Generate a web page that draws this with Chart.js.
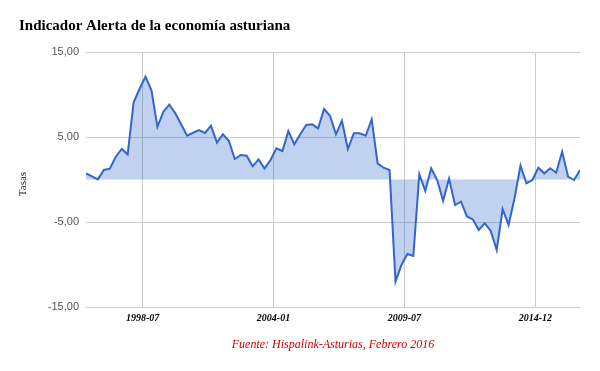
<!DOCTYPE html>
<html>
<head>
<meta charset="utf-8">
<script src="https://cdn.jsdelivr.net/npm/chart.js@4.4.1/dist/chart.umd.min.js"></script>
<style>
  html, body { margin: 0; padding: 0; background: #fff; }
  #wrap { width: 600px; height: 371px; position: relative; }
</style>
</head>
<body>
<div id="wrap"><canvas id="alertaChart"></canvas></div>
<script>
// quarters 1996 - 2016
const quarters = [
  '1996-T1','1996-T2','1996-T3','1996-T4','1997-T1','1997-T2','1997-T3','1997-T4',
  '1998-T1','1998-T2','1998-T3','1998-T4','1999-T1','1999-T2','1999-T3','1999-T4',
  '2000-T1','2000-T2','2000-T3','2000-T4','2001-T1','2001-T2','2001-T3','2001-T4',
  '2002-T1','2002-T2','2002-T3','2002-T4','2003-T1','2003-T2','2003-T3','2003-T4',
  '2004-T1','2004-T2','2004-T3','2004-T4','2005-T1','2005-T2','2005-T3','2005-T4',
  '2006-T1','2006-T2','2006-T3','2006-T4','2007-T1','2007-T2','2007-T3','2007-T4',
  '2008-T1','2008-T2','2008-T3','2008-T4','2009-T1','2009-T2','2009-T3','2009-T4',
  '2010-T1','2010-T2','2010-T3','2010-T4','2011-T1','2011-T2','2011-T3','2011-T4',
  '2012-T1','2012-T2','2012-T3','2012-T4','2013-T1','2013-T2','2013-T3','2013-T4',
  '2014-T1','2014-T2','2014-T3','2014-T4','2015-T1','2015-T2','2015-T3','2015-T4',
  '2016-T1','2016-T2','2016-T3','2016-T4'
];

const tasas = [
  0.73, 0.38, 0.02, 1.12, 1.27, 2.68, 3.59, 2.96,
  9.08, 10.65, 12.1, 10.5, 6.2, 7.98, 8.8, 7.79,
  6.47, 5.15, 5.5, 5.82, 5.47, 6.33, 4.33, 5.32,
  4.56, 2.41, 2.88, 2.8, 1.55, 2.37, 1.3, 2.29,
  3.67, 3.35, 5.7, 4.14, 5.32, 6.41, 6.49, 6.02,
  8.29, 7.5, 5.32, 6.92, 3.59, 5.43, 5.43, 5.15,
  7.08, 1.9, 1.39, 1.12, -12.02, -10.06, -8.76, -9.0,
  0.6, -1.35, 1.32, -0.06, -2.5, 0.1, -3.0, -2.6,
  -4.35, -4.7, -5.94, -5.15, -6.06, -8.29, -3.5, -5.35,
  -2.2, 1.65, -0.45, -0.06, 1.39, 0.73, 1.32, 0.8,
  3.27, 0.33, -0.06, 1.12
];

// x axis labels (positions in quarter units, start of month)
const tickLabels = ['1998-07', '2004-01', '2009-07', '2014-12'];
const tickPositions = [9.5, 31.5, 53.5, 75.5];

const yTicks = [-15, -5, 5, 15];

const titleText = 'Indicador Alerta de la economía asturiana';
const sourceText = 'Fuente: Hispalink-Asturias, Febrero 2016';
const yTitle = 'Tasas';

const textPlugin = {
  id: 'textPlugin',
  afterDraw(chart) {
    const ctx = chart.ctx;
    const area = chart.chartArea;
    ctx.save();
    // title
    ctx.fillStyle = '#000';
    ctx.font = 'bold 15px "Liberation Serif"';
    ctx.textAlign = 'left';
    ctx.textBaseline = 'middle';
    ctx.fillText(titleText, 19, 26);
    // source
    ctx.fillStyle = '#cc0000';
    ctx.font = 'italic 12px "Liberation Serif"';
    ctx.textAlign = 'center';
    ctx.fillText(sourceText, (area.left + area.right) / 2, 345);
    // y title
    ctx.translate(23, 184);
    ctx.rotate(-Math.PI / 2);
    ctx.fillStyle = '#222';
    ctx.font = '11px "Liberation Serif"';
    ctx.fillText(yTitle, 0, 0);
    ctx.restore();
  }
};

new Chart(document.getElementById('alertaChart'), {
  type: 'line',
  data: {
    datasets: [{
      data: tasas.map((v, i) => ({ x: i, y: v })),
      borderColor: '#3366cc',
      borderWidth: 2,
      backgroundColor: 'rgba(51, 102, 204, 0.3)',
      fill: 'origin',
      pointRadius: 0,
      tension: 0
    }]
  },
  options: {
    responsive: true,
    maintainAspectRatio: false,
    animation: false,
    layout: { padding: { top: 52, right: 20, bottom: 0, left: 0 } },
    plugins: {
      legend: { display: false },
      tooltip: { enabled: false }
    },
    scales: {
      x: {
        type: 'linear',
        min: 0,
        max: quarters.length - 1,
        afterBuildTicks: scale => {
          scale.ticks = tickPositions.map(v => ({ value: v }));
        },
        afterFit: scale => { scale.height = 64; },
        border: { display: false },
        grid: { color: '#cccccc', drawTicks: false },
        ticks: {
          padding: 5,
          maxRotation: 0,
          autoSkip: false,
          color: '#000',
          font: { family: 'Liberation Serif', size: 10, style: 'italic', weight: 'bold' },
          callback: (value, index) => tickLabels[index]
        }
      },
      y: {
        min: -15,
        max: 15,
        afterBuildTicks: scale => {
          scale.ticks = yTicks.map(v => ({ value: v }));
        },
        afterFit: scale => { scale.width = 86; },
        border: { display: false },
        grid: { color: '#cccccc', drawTicks: false },
        ticks: {
          padding: 7,
          color: '#555',
          font: { family: 'Liberation Sans', size: 11 },
          callback: value => value.toFixed(2).replace('.', ',')
        }
      }
    }
  },
  plugins: [textPlugin]
});
</script>
</body>
</html>
